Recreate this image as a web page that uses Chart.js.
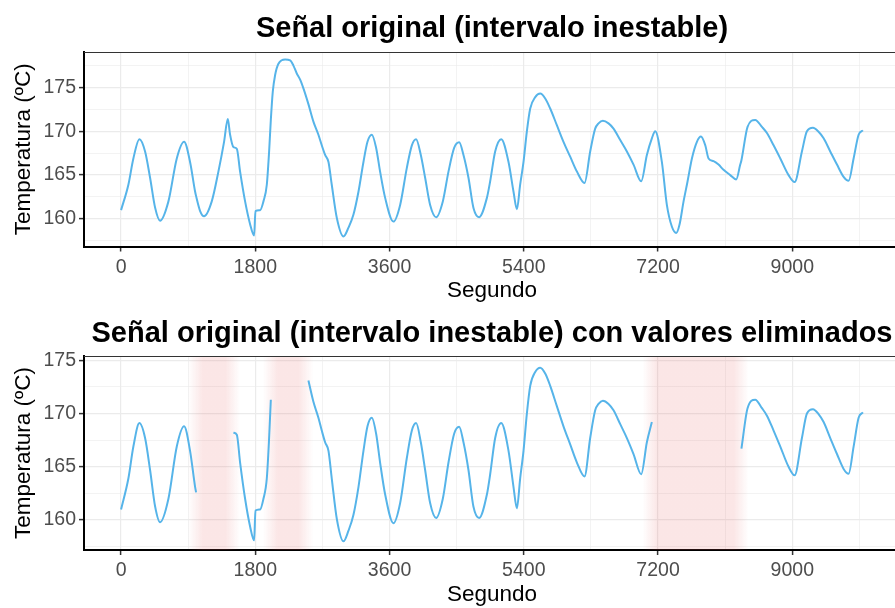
<!DOCTYPE html>
<html>
<head>
<meta charset="utf-8">
<script src="https://cdn.jsdelivr.net/npm/chart.js@4.4.1/dist/chart.umd.min.js"></script>
<style>
  html, body { margin: 0; padding: 0; background: #fff; overflow: hidden; width: 895px; height: 608px; }
  canvas { position: absolute; left: 0; }
  #top { top: 0; }
  #bottom { top: 300px; }
</style>
</head>
<body>
<canvas id="top" width="905" height="310"></canvas>
<canvas id="bottom" width="905" height="308"></canvas>
<script>
// señal original: segundo / temperatura
const segundos = [
  0, 98, 165, 246, 322, 389, 456, 523, 635, 747, 845, 925, 993, 1006, 1060, 1113,
  1216, 1305, 1381, 1431, 1462, 1506, 1552, 1596, 1663, 1730, 1784, 1802, 1864, 1909,
  1954, 1985, 2008, 2034, 2065, 2110, 2200, 2267, 2311, 2356, 2401, 2445, 2512, 2579,
  2646, 2691, 2736, 2781, 2825, 2893, 2982, 3049, 3116, 3183, 3250, 3304, 3362, 3420,
  3473, 3541, 3652, 3742, 3831, 3899, 3956, 4019, 4077, 4144, 4225, 4314, 4390, 4466,
  4533, 4591, 4658, 4725, 4801, 4905, 4949, 5016, 5097, 5195, 5262, 5307, 5351, 5396,
  5441, 5486, 5553, 5620, 5687, 5754, 5843, 5932, 6022, 6112, 6214, 6290, 6357, 6402,
  6460, 6536, 6603, 6693, 6782, 6871, 6974, 7050, 7117, 7162, 7251, 7318, 7386, 7444,
  7488, 7542, 7596, 7654, 7721, 7775, 7833, 7877, 7944, 8011, 8078, 8168, 8248, 8302,
  8318, 8400, 8503, 8593, 8660, 8749, 8839, 8950, 9031, 9129, 9196, 9277, 9352, 9420,
  9509, 9599, 9688, 9755, 9822, 9889, 9947
];
const temperatura = [
  161.0, 163.9, 166.9, 169.1, 167.7, 164.7, 161.3, 159.8, 162.0, 166.9, 168.8, 166.5, 163.1, 162.6, 160.9, 160.3,
  162.0, 165.4, 168.8, 171.4, 169.6, 168.2, 168.0, 165.4, 162.0, 159.4, 158.1, 160.9, 161.0, 162.0,
  163.9, 167.7, 171.3, 174.5, 176.4, 177.7, 178.2, 178.1, 177.5, 176.6, 175.9, 174.9, 173.1, 171.1,
  169.6, 168.4, 167.3, 166.5, 163.9, 160.1, 158.0, 159.0, 160.5, 163.1, 166.5, 168.8, 169.6, 168.1,
  165.4, 162.4, 159.7, 161.6, 165.8, 168.4, 169.1, 167.3, 164.7, 161.6, 160.2, 162.0, 165.4, 168.1,
  168.75, 167.3, 164.7, 161.25, 160.2, 162.4, 164.3, 167.7, 169.1, 166.5, 163.1, 161.1, 163.9, 166.5,
  170.0, 172.6, 173.9, 174.3, 173.75, 172.6, 170.7, 168.8, 167.1, 165.4, 164.1, 167.7, 170.3, 170.9,
  171.2, 170.9, 170.3, 169.0, 167.7, 166.2, 164.3, 167.3, 169.2, 170.0, 166.5, 161.6, 159.1, 158.4,
  159.35, 162.0, 164.3, 166.9, 168.8, 169.4, 168.4, 166.9, 166.6, 166.2, 165.6, 165.0, 164.5, 166.2,
  166.7, 170.5, 171.3, 170.5, 169.8, 168.4, 166.9, 165.0, 164.2, 167.7, 170.0, 170.4, 169.95, 169.2,
  167.7, 166.2, 164.8, 164.35, 166.9, 169.6, 170.1
];

// tramos con valores eliminados (segundos)
const eliminadoInicio = [1006, 2010, 7120];
const eliminadoFin = [1500, 2505, 8315];

// zonas sombreadas (segundos)
const zonaInicio = [895, 1900, 6990];
const zonaFin = [1600, 2580, 8415];

// marcas de los ejes
const xTicks = [0, 1800, 3600, 5400, 7200, 9000];
const xMinor = [900, 2700, 4500, 6300, 8100, 9900];
const yTicks = [160, 165, 170, 175];
const yMinor = [157.5, 162.5, 167.5, 172.5, 177.5];

const titulo1 = 'Señal original (intervalo inestable)';
const titulo2 = 'Señal original (intervalo inestable) con valores eliminados';

const FONT = '"Liberation Sans", Arial, sans-serif';
const LINE = '#56B4E9';

const serieOriginal = segundos.map((s, i) => ({ x: s, y: temperatura[i] }));
const serieEliminada = segundos.map((s, i) => {
  const fuera = eliminadoInicio.some((a, k) => s > a && s < eliminadoFin[k]);
  return { x: s, y: fuera ? null : temperatura[i] };
});

const decor = {
  id: 'decor',
  beforeDatasetsDraw(chart, args, opts) {
    const { ctx, chartArea: a, scales: { x } } = chart;
    ctx.save();
    (opts.zonas || []).forEach(([s, e]) => {
      const x0 = x.getPixelForValue(s), x1 = x.getPixelForValue(e);
      const g = ctx.createLinearGradient(x0, 0, x1, 0);
      const f = Math.min(0.45, 15 / (x1 - x0));
      g.addColorStop(0, 'rgba(230,100,100,0)');
      g.addColorStop(f, 'rgba(230,100,100,0.16)');
      g.addColorStop(1 - f, 'rgba(230,100,100,0.16)');
      g.addColorStop(1, 'rgba(230,100,100,0)');
      ctx.fillStyle = g;
      ctx.fillRect(x0, a.top, x1 - x0, a.bottom - a.top);
    });
    ctx.restore();
  },
  afterDraw(chart, args, opts) {
    const { ctx, chartArea: a } = chart;
    ctx.save();
    ctx.strokeStyle = '#333';
    ctx.lineWidth = 1;
    ctx.beginPath();
    ctx.moveTo(a.left, a.top + 0.5);
    ctx.lineTo(a.right, a.top + 0.5);
    ctx.stroke();
    ctx.fillStyle = '#000';
    ctx.font = 'bold 29px ' + FONT;
    ctx.textAlign = 'center';
    ctx.textBaseline = 'alphabetic';
    ctx.fillText(opts.titulo, (a.left + a.right) / 2, opts.tituloY);
    ctx.restore();
  }
};

const isMajor = (list, v) => list.some(t => Math.abs(t - v) < 1e-6);

function opciones(cfg) {
  return {
    responsive: false,
    animation: false,
    layout: { padding: { top: cfg.top, right: 5, left: 0, bottom: 0 } },
    plugins: {
      legend: { display: false },
      tooltip: { enabled: false },
      decor: { titulo: cfg.titulo, tituloY: cfg.tituloY, zonas: cfg.zonas }
    },
    scales: {
      x: {
        type: 'linear',
        min: -497,
        max: 10444,
        afterBuildTicks: s => {
          s.ticks = xTicks.concat(xMinor).sort((a, b) => a - b).map(v => ({ value: v }));
        },
        afterFit: s => { s.height = cfg.xHeight; },
        ticks: {
          autoSkip: false,
          maxRotation: 0,
          padding: 4,
          color: '#4D4D4D',
          font: { family: FONT, size: 19.5 },
          callback: v => isMajor(xTicks, v) ? String(v) : ''
        },
        grid: {
          color: '#EBEBEB',
          lineWidth: c => isMajor(xTicks, c.tick.value) ? 1.2 : 0.6,
          tickLength: 5,
          tickWidth: 1.5,
          tickColor: c => isMajor(xTicks, c.tick.value) ? '#333' : 'rgba(0,0,0,0)'
        },
        border: { display: true, color: '#000', width: 2 },
        title: {
          display: true,
          text: 'Segundo',
          color: '#000',
          font: { family: FONT, size: 22.5 },
          padding: { top: 0, bottom: cfg.xTitlePad }
        }
      },
      y: {
        min: cfg.ymin,
        max: cfg.ymax,
        afterBuildTicks: s => {
          s.ticks = yTicks.concat(yMinor)
            .filter(v => v > cfg.ymin && v < cfg.ymax)
            .sort((a, b) => a - b)
            .map(v => ({ value: v }));
        },
        afterFit: s => { s.width = 84; },
        ticks: {
          autoSkip: false,
          padding: 3,
          color: '#4D4D4D',
          font: { family: FONT, size: 19.5 },
          callback: v => isMajor(yTicks, v) ? String(v) : ''
        },
        grid: {
          color: '#EBEBEB',
          lineWidth: c => isMajor(yTicks, c.tick.value) ? 1.2 : 0.6,
          tickLength: 5,
          tickWidth: 1.5,
          tickColor: c => isMajor(yTicks, c.tick.value) ? '#333' : 'rgba(0,0,0,0)'
        },
        border: { display: true, color: '#000', width: 2 },
        title: {
          display: true,
          text: 'Temperatura (ºC)',
          color: '#000',
          font: { family: FONT, size: 22.5 },
          padding: { top: 10.5, bottom: 0 }
        }
      }
    }
  };
}

function dataset(data) {
  return {
    data: data,
    borderColor: LINE,
    borderWidth: 2,
    pointRadius: 0,
    cubicInterpolationMode: 'monotone',
    spanGaps: false
  };
}

new Chart(document.getElementById('top'), {
  type: 'line',
  data: { datasets: [dataset(serieOriginal)] },
  options: opciones({
    top: 52, xHeight: 63.5, xTitlePad: 5.5, ymin: 156.85, ymax: 179.05,
    titulo: titulo1, tituloY: 37.3, zonas: []
  }),
  plugins: [decor]
});

new Chart(document.getElementById('bottom'), {
  type: 'line',
  data: { datasets: [dataset(serieEliminada)] },
  options: opciones({
    top: 56, xHeight: 58, xTitlePad: 0, ymin: 157.19, ymax: 175.4,
    titulo: titulo2, tituloY: 41.7,
    zonas: zonaInicio.map((s, i) => [s, zonaFin[i]])
  }),
  plugins: [decor]
});
</script>
</body>
</html>
